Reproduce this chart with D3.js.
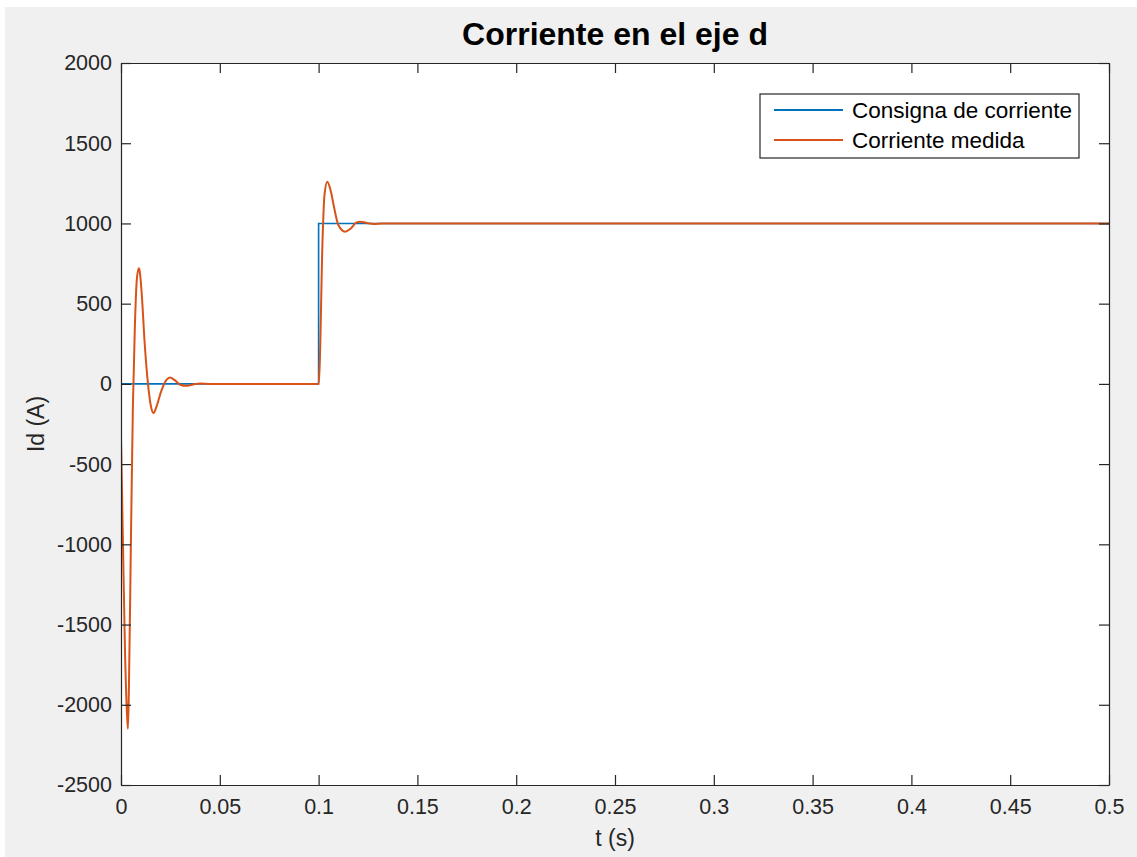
<!DOCTYPE html>
<html>
<head>
<meta charset="utf-8">
<script src="https://cdn.jsdelivr.net/npm/d3@7"></script>
<style>
  html, body { margin: 0; padding: 0; background: #ffffff; }
  svg { display: block; }
  text { font-family: "Liberation Sans", Arial, Helvetica, sans-serif; }
</style>
</head>
<body>
<svg id="chart" width="1137" height="857"></svg>
<script>
// Current reference (step command) in the d axis
const refTime  = [0, 0.1, 0.1, 0.5];
const refCurr  = [0, 0, 1000, 1000];

// Measured d-axis current
const measTime = [0, 0.001, 0.002, 0.003, 0.0035, 0.004, 0.005, 0.006, 0.007, 0.008, 0.009, 0.0095,
                  0.0105, 0.012, 0.0135, 0.015, 0.0165, 0.018, 0.0205, 0.023, 0.0248, 0.027, 0.03,
                  0.033, 0.036, 0.04, 0.045, 0.1, 0.1005, 0.102, 0.103, 0.1044, 0.106, 0.108, 0.11,
                  0.1134, 0.116, 0.119, 0.121, 0.124, 0.128, 0.132, 0.5];
const measCurr = [-330, -1000, -1650, -2050, -2150, -1900, -1000, -150, 350, 650, 720, 700,
                  560, 250, 20, -130, -182, -140, -40, 25, 40, 25, -5,
                  -12, -5, 2, 0, 0, 100, 900, 1180, 1260, 1210, 1090, 990,
                  949, 965, 1005, 1011, 1004, 997, 1000, 1000];

const xTicks = [0, 0.05, 0.1, 0.15, 0.2, 0.25, 0.3, 0.35, 0.4, 0.45, 0.5];
const yTicks = [-2500, -2000, -1500, -1000, -500, 0, 500, 1000, 1500, 2000];

const seriesNames = ["Consigna de corriente", "Corriente medida"];
const seriesColors = ["#0072BD", "#D95319"];

const svg = d3.select("#chart");
const W = 1137, H = 857;
const plot = { left: 121, top: 63, right: 1109, bottom: 785 };
const axisColor = "#262626";

// figure background
svg.append("rect").attr("x", 5).attr("y", 7).attr("width", W - 5).attr("height", H - 7)
  .attr("fill", "#f0f0f0");

const x = d3.scaleLinear().domain([0, 0.5]).range([plot.left, plot.right]);
const y = d3.scaleLinear().domain([-2500, 2000]).range([plot.bottom, plot.top]);

// plot area
svg.append("rect")
  .attr("x", plot.left).attr("y", plot.top)
  .attr("width", plot.right - plot.left).attr("height", plot.bottom - plot.top)
  .attr("fill", "#ffffff");

// clipped data lines
svg.append("clipPath").attr("id", "clip").append("rect")
  .attr("x", plot.left).attr("y", plot.top)
  .attr("width", plot.right - plot.left).attr("height", plot.bottom - plot.top);

const g = svg.append("g").attr("clip-path", "url(#clip)");

const stepLine = d3.line().x(d => x(d[0])).y(d => y(d[1]));
g.append("path")
  .datum(refTime.map((t, i) => [t, refCurr[i]]))
  .attr("d", stepLine)
  .attr("fill", "none").attr("stroke", seriesColors[0]).attr("stroke-width", 1.6);

const smoothLine = d3.line().x(d => x(d[0])).y(d => y(d[1])).curve(d3.curveMonotoneX);
g.append("path")
  .datum(measTime.map((t, i) => [t, measCurr[i]]))
  .attr("d", smoothLine)
  .attr("fill", "none").attr("stroke", seriesColors[1]).attr("stroke-width", 2)
  .attr("stroke-linejoin", "round");

// axes with inward ticks on all four sides
const tickLen = 10;
const fmtX = d => String(+d.toFixed(2));
const fmtY = d => String(d);
const bottomAxis = d3.axisBottom(x).tickValues(xTicks).tickSizeInner(-tickLen).tickSizeOuter(0)
  .tickPadding(14).tickFormat(fmtX);
const topAxis = d3.axisTop(x).tickValues(xTicks).tickSizeInner(-tickLen).tickSizeOuter(0).tickFormat("");
const leftAxis = d3.axisLeft(y).tickValues(yTicks).tickSizeInner(-tickLen).tickSizeOuter(0)
  .tickPadding(9).tickFormat(fmtY);
const rightAxis = d3.axisRight(y).tickValues(yTicks).tickSizeInner(-tickLen).tickSizeOuter(0).tickFormat("");

function styleAxis(sel) {
  sel.select(".domain").attr("stroke", axisColor).attr("stroke-width", 1.2);
  sel.selectAll(".tick line").attr("stroke", axisColor).attr("stroke-width", 1.2);
  sel.selectAll(".tick text").attr("fill", axisColor).attr("font-size", 21.5)
    .attr("font-family", "'Liberation Sans', Arial, sans-serif");
}

svg.append("g").attr("transform", `translate(0,${plot.bottom})`).call(bottomAxis).call(styleAxis);
svg.append("g").attr("transform", `translate(0,${plot.top})`).call(topAxis).call(styleAxis);
svg.append("g").attr("transform", `translate(${plot.left},0)`).call(leftAxis).call(styleAxis);
svg.append("g").attr("transform", `translate(${plot.right},0)`).call(rightAxis).call(styleAxis);

// title and axis labels
svg.append("text")
  .attr("x", (plot.left + plot.right) / 2).attr("y", 45)
  .attr("text-anchor", "middle").attr("font-size", 32).attr("font-weight", "bold")
  .attr("fill", "#000000").text("Corriente en el eje d");

svg.append("text")
  .attr("x", (plot.left + plot.right) / 2).attr("y", 846)
  .attr("text-anchor", "middle").attr("font-size", 23).attr("fill", axisColor)
  .text("t (s)");

svg.append("text")
  .attr("transform", `translate(44,${(plot.top + plot.bottom) / 2}) rotate(-90)`)
  .attr("text-anchor", "middle").attr("font-size", 23).attr("fill", axisColor)
  .text("Id (A)");

// legend
const legend = svg.append("g");
legend.append("rect")
  .attr("x", 760).attr("y", 94).attr("width", 319).attr("height", 64)
  .attr("fill", "#ffffff").attr("stroke", axisColor).attr("stroke-width", 1.2);
seriesNames.forEach((name, i) => {
  const ly = 110 + i * 30;
  legend.append("line")
    .attr("x1", 774).attr("x2", 843).attr("y1", ly).attr("y2", ly)
    .attr("stroke", seriesColors[i]).attr("stroke-width", 1.8);
  legend.append("text")
    .attr("x", 852).attr("y", ly + 8)
    .attr("font-size", 22.5).attr("fill", "#000000").text(name);
});
</script>
</body>
</html>
